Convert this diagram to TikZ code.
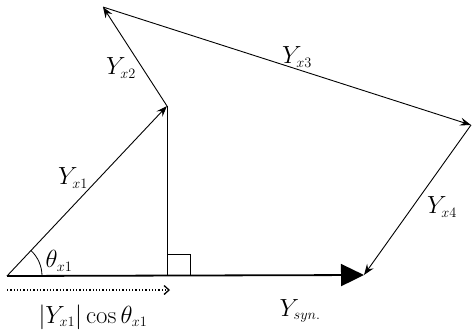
\documentclass[tikz,border=0pt]{standalone}
\usepackage{tikz}
\usetikzlibrary{arrows.meta}

\newcommand{\yph}[1]{Y_{\scriptscriptstyle #1}}

\begin{document}
\begin{tikzpicture}[
    x=1bp, y=-1bp,
    >={Stealth[length=11bp,width=8bp,inset=4bp]},
    every node/.style={font=\fontsize{27}{30}\selectfont,inner sep=0pt},
    ph/.style={->,line width=0.9bp},
    res/.style={-{Triangle[length=23bp,width=22bp]},line width=1.8bp},
    proj/.style={-{Straight Barb[length=5bp,width=9bp]},dotted,line width=1.3bp},
  ]
  \useasboundingbox (0,0) rectangle (473,334);

  % -- corners of the phasor chain --
  \coordinate (o)  at (7,276);
  \coordinate (p1) at (167,106);
  \coordinate (p2) at (103,7);
  \coordinate (p3) at (471,125);
  \coordinate (p4) at (364,275);
  \coordinate (ft) at (167,276);

  % -- resultant and its parts --
  \draw[res] (o) -- (p4);
  \draw[ph] (o) -- (p1);
  \draw[ph] (p1) -- (p2);
  \draw[ph] (p2) -- (p3);
  \draw[ph] (p3) -- (p4);

  % -- projection of the first one --
  \draw[line width=0.9bp] (p1) -- (ft);
  \draw[line width=0.8bp] (ft) ++(0,-22) -| ++(23,22);
  \draw[line width=0.8bp] (o) ++(35,0) arc[start angle=0,end angle=47,radius=35bp];
  \coordinate (d0) at (7,290);
  \coordinate (d1) at (170,290);
  \draw[proj] (d0) -- (d1);

  % -- labels --
  \node (l1)  at (73,178)  {$\yph{x1}$};
  \node (l2)  at (121,68)  {$\yph{x2}$};
  \node (l3)  at (297,57)  {$\yph{x3}$};
  \node (l4)  at (442,207) {$\yph{x4}$};
  \node (th)  at (59,261)  {$\theta_{\scriptscriptstyle x1}$};
  \node (syn) at (300,311) {$Y_{\scriptscriptstyle syn.}$};
  \node (cs)  at (93,317)  {$|\yph{x1}|\cos\theta_{\scriptscriptstyle x1}$};
\end{tikzpicture}
\end{document}
